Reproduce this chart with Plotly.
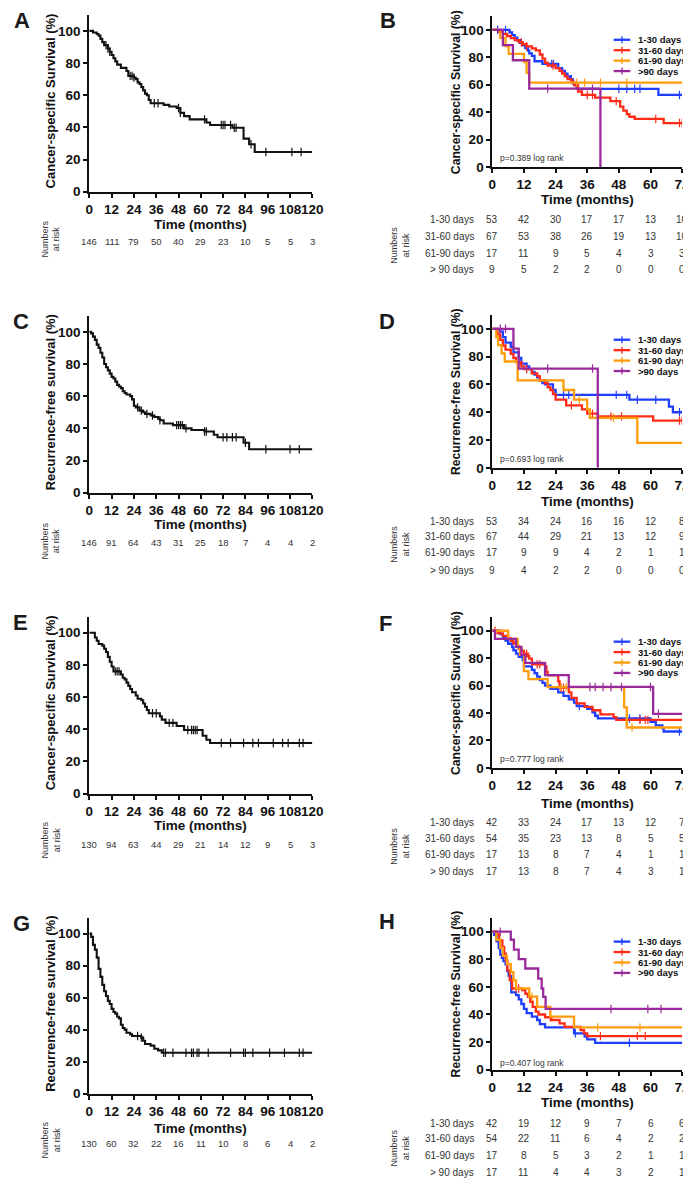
import plotly.graph_objects as go

FIG_W, FIG_H = 691, 1178
FONT = "Arial, Liberation Sans, sans-serif"

BLACK = "#111111"
BLUE = "#1f3fff"
RED = "#ff2b17"
ORANGE = "#ff9c0a"
PURPLE = "#9a2a9c"
GROUP_COLORS = [BLUE, RED, ORANGE, PURPLE]

LEFT_TICKS = [0, 12, 24, 36, 48, 60, 72, 84, 96, 108, 120]
RIGHT_TICKS = [0, 12, 24, 36, 48, 60, 72]
Y_TICKS = [0, 20, 40, 60, 80, 100]

GROUP_ROWS = ["1-30 days", "31-60 days", "61-90 days", "> 90 days"]
LEGEND_NAMES = ["1-30 days", "31-60 days", "61-90 days", ">90 days"]

# ---------------------------------------------------------------- A (CSS, all)
A_T = [2, 4, 5, 6, 7, 8, 10, 11, 12, 13, 14, 15, 17, 20, 21, 24, 25, 26, 27, 28,
       29, 30, 31, 32, 33, 40, 43, 47, 49, 51, 54, 63, 65, 77, 83, 86, 89]
A_S = [99, 98, 97, 95, 93, 91, 89, 87, 85, 83, 81, 79, 77, 75, 72, 71, 70, 68, 67, 65,
       63, 61, 60, 57, 55, 54, 53, 52, 49, 47, 45, 43, 41.5, 39.8, 33, 29.5, 24.7]
A_C = [9, 10, 11, 22, 23, 24, 35, 37, 48, 49, 62, 71, 72, 73, 76, 78, 79, 87, 95, 109, 114]
A_RISK = [146, 111, 79, 50, 40, 29, 23, 10, 5, 5, 3]

# ---------------------------------------------------------------- C (RFS, all)
C_T = [1, 2, 3, 4, 5, 6, 7, 8, 9, 10, 11, 12, 13, 14, 15, 16, 17, 18, 19, 20, 22, 23,
       24, 25, 27, 29, 30, 33, 35, 37, 38, 40, 45, 51, 55, 62, 67, 69, 83, 86]
C_S = [99, 97, 95, 92, 90, 87, 84, 80, 78, 76, 74, 72, 71, 69, 67, 66, 65, 63, 62, 61, 60, 58,
       54, 53, 51, 50, 49, 48, 47, 46, 45, 43, 42, 40, 39, 38, 36, 34.5, 31, 27]
C_C = [26, 28, 31, 34, 38, 47, 48, 49, 50, 52, 62, 63, 72, 74, 77, 79, 84, 95, 108, 113]
C_RISK = [146, 91, 64, 43, 31, 25, 18, 7, 4, 4, 2]

# ---------------------------------------------------------------- E (CSS, cohort 2)
E_T = [3, 4, 5, 7, 8, 9, 10, 11, 12, 13, 17, 18, 19, 20, 21, 22, 23, 25, 26, 28, 29,
       30, 31, 32, 38, 39, 41, 47, 51, 61, 63, 65]
E_S = [97, 95, 93, 92, 90, 88, 85, 82, 79, 76, 74, 72, 71, 69, 67, 65, 63, 61, 59, 58, 56,
       54, 52, 50, 48, 46, 44, 42, 39.5, 36, 33.5, 31.5]
E_C = [14, 15, 16, 34, 36, 43, 45, 53, 55, 56, 57, 58, 71, 76, 83, 88, 91, 99, 104, 107, 113, 115]
E_RISK = [130, 94, 63, 44, 29, 21, 14, 12, 9, 5, 3]

# ---------------------------------------------------------------- G (RFS, cohort 2)
G_T = [1, 2, 3, 4, 5, 6, 7, 8, 9, 10, 11, 12, 13, 14, 15, 16, 17, 18, 19, 20, 22, 23,
       28, 29, 30, 33, 35, 37, 39]
G_S = [98, 93, 90, 85, 78, 73, 68, 64, 61, 58, 56, 53, 51, 50, 48, 47, 43, 41, 40, 38, 37, 36,
       35, 33, 31, 30, 28, 27, 25.5]
G_C = [26, 28, 40, 41, 45, 52, 55, 56, 58, 59, 64, 76, 83, 84, 88, 97, 105, 113, 115]
G_RISK = [130, 60, 32, 22, 16, 11, 10, 8, 6, 4, 2]

# ---------------------------------------------------------------- B (CSS by delay)
B1_T = [6.5, 7.5, 8.5, 9.5, 10.5, 11.5, 12.5, 13.5, 14, 15, 16, 19, 25, 26.5, 27.5, 28.5,
        29.5, 30.5, 32, 63]
B1_S = [98.1, 96.2, 94.3, 92.4, 90.5, 88.6, 86.7, 84.8, 82.9, 81, 77.1, 75.2, 72, 70, 68, 66,
        64, 61, 57, 52.5]
B1_C = [2, 5, 22.5, 23.2, 30, 48, 51, 54, 56, 71]
B2_T = [2.5, 4, 5.5, 7, 8.5, 10, 11.5, 13, 15, 16.5, 18, 19, 20, 21, 24, 25.5, 26.5, 27.5,
        28.5, 30, 31, 32.5, 34, 39, 44.8, 48.5, 49.7, 51, 52, 54, 65]
B2_S = [98.5, 97, 95.5, 94, 92.5, 91, 89.5, 88, 86.5, 85, 82, 79, 76, 74, 72, 70, 68, 66,
        64, 62, 59.5, 55, 52.5, 50.5, 48, 44, 41, 38.5, 36.6, 35, 32]
B2_C = [11, 13, 23, 36, 38, 47, 62, 71, 72]
B3_T = [3, 5, 6.2, 12, 13, 14]
B3_S = [94.1, 88.2, 82.4, 76.5, 68.6, 61.5]
B3_C = [32, 35, 41, 51]
B4_T = [4, 7.8, 14, 41]
B4_S = [88.9, 77.8, 57.1, 0]
B4_C = [21, 38]
B_RISK = [[53, 42, 30, 17, 17, 13, 10],
          [67, 53, 38, 26, 19, 13, 10],
          [17, 11, 9, 5, 4, 3, 3],
          [9, 5, 2, 2, 0, 0, 0]]

# ---------------------------------------------------------------- D (RFS by delay)
D1_T = [3, 4, 5, 7, 8, 10, 11, 13, 14, 15, 16, 17, 18, 19, 20, 23, 24, 52, 67, 68.5]
D1_S = [98, 94, 90, 87, 83, 79, 75, 73, 71, 69, 67, 65, 63, 61, 60, 56, 52.5, 49, 44, 40]
D1_C = [21, 27, 29, 47, 51, 55, 62, 71]
D2_T = [2, 3, 4, 5, 7, 8, 9, 11, 12, 15, 17, 18, 20, 21, 22, 23, 24, 28, 34, 36, 40, 61]
D2_S = [96, 92, 88, 85, 82, 79, 76, 73, 71, 68, 66, 63, 61, 58, 56, 53, 49, 45, 42, 39, 37, 34]
D2_C = [13, 30, 38, 45, 49, 71, 72]
D3_T = [1.5, 2.2, 3.5, 4.7, 9.6, 27, 31, 36, 37, 55]
D3_S = [94.1, 88.2, 82.4, 76.5, 62.9, 56, 49, 42, 36, 18]
D3_C = [33, 46]
D4_T = [8, 10, 40]
D4_S = [85.7, 71.4, 0]
D4_C = [3, 5, 21, 38]
D_RISK = [[53, 34, 24, 16, 16, 12, 8],
          [67, 44, 29, 21, 13, 12, 9],
          [17, 9, 9, 4, 2, 1, 1],
          [9, 4, 2, 2, 0, 0, 0]]

# ---------------------------------------------------------------- F (CSS by delay, cohort 2)
F1_T = [3, 4, 5, 6, 7.5, 8, 9, 10, 11.5, 12, 15, 16, 17, 18, 19, 20, 22, 25, 27, 29, 31,
        32, 36, 38, 39, 40, 60, 62, 64.5, 65]
F1_S = [97.6, 95.2, 92.9, 90.5, 88.1, 85.7, 83.3, 81, 78.6, 74, 71.5, 69, 66.5, 64, 62, 60,
        57.6, 55, 52.5, 50, 47.5, 45, 43, 40.5, 38, 36, 33.5, 31, 29, 26.5]
F1_C = [33, 52, 56, 71]
F2_T = [2, 4, 6, 7, 8, 9, 10, 11, 12, 13.5, 14, 15, 20, 20.5, 21, 25, 25.5, 29, 30, 32,
        35, 38, 41, 46, 47]
F2_S = [98.1, 96.3, 94.4, 92.6, 90.7, 88.9, 87, 85.2, 83.3, 81.5, 79.6, 75.5, 74, 70, 67.5,
        63, 58.5, 55, 51, 47, 44.5, 42, 39, 37, 35]
F2_C = [1, 12, 13, 17, 18, 26, 27, 56, 58, 59]
F3_T = [6, 9.6, 10.5, 12, 13.7, 21, 50, 51]
F3_S = [94.1, 88.2, 82.4, 70.6, 64.7, 58.8, 44.1, 29.4]
F3_C = [26, 28, 53]
F4_T = [1, 9, 11, 12.5, 20, 29, 61]
F4_S = [94.1, 88.2, 82.4, 76.5, 67.6, 59, 39.4]
F4_C = [37, 39, 42, 45, 49, 60, 63]
F_RISK = [[42, 33, 24, 17, 13, 12, 7],
          [54, 35, 23, 13, 8, 5, 5],
          [17, 13, 8, 7, 4, 1, 1],
          [17, 13, 8, 7, 4, 3, 1]]

# ---------------------------------------------------------------- H (RFS by delay, cohort 2)
H1_T = [0.7, 1.6, 2.4, 3, 3.6, 4.2, 5, 5.6, 6.2, 7.2, 9, 10, 11, 12, 13, 15, 17, 18, 20,
        31, 35, 36, 39]
H1_S = [97.6, 92.9, 88.1, 83.3, 81, 78.6, 76.2, 71.4, 68, 56, 54, 51, 47.6, 44, 41, 38.5,
        36, 33, 30.6, 26.3, 24, 22, 19.5]
H1_C = [31.5, 52]
H2_T = [1.6, 2.6, 3.8, 4.5, 5.1, 5.7, 6.6, 7.5, 11.3, 12.5, 13.5, 14.4, 15.3, 16.5, 17.5,
        20, 22.4, 25.5, 27.4, 33.5, 34.8, 36]
H2_S = [98, 93.7, 89, 84, 79, 72, 64.8, 58.8, 57.6, 55, 52.8, 49.2, 45.5, 42, 40, 38, 36,
        33.5, 31, 28.7, 26.3, 24.3]
H2_C = [9, 10, 22, 41, 55, 58]
H3_T = [1.5, 3, 4, 5.5, 7, 8, 9, 14, 17, 22, 31]
H3_S = [94.1, 88.2, 82.4, 76.5, 70.6, 64.7, 58.8, 52.9, 45.5, 38.5, 30.6]
H3_C = [15, 40, 56]
H4_T = [7, 8.2, 10, 12.5, 17.4, 18.7, 19.3, 20.2]
H4_S = [94.1, 87, 80, 73.3, 66, 58.8, 52.8, 44]
H4_C = [3, 45, 59, 64]
H_RISK = [[42, 19, 12, 9, 7, 6, 6],
          [54, 22, 11, 6, 4, 2, 2],
          [17, 8, 5, 3, 2, 1, 1],
          [17, 11, 4, 4, 3, 2, 1]]

P_VALUES = {"B": "p=0.389 log rank", "D": "p=0.693 log rank",
            "F": "p=0.777 log rank", "H": "p=0.407 log rank"}

Y_TITLES = {"A": "Cancer-specific Survival (%)", "B": "Cancer-specific Survival (%)",
            "C": "Recurrence-free survival (%)", "D": "Recurrence-free Survival (%)",
            "E": "Cancer-specific Survival (%)", "F": "Cancer-specific Survival (%)",
            "G": "Recurrence-free survival (%)", "H": "Recurrence-free Survival (%)"}

# ------------------------------------------------------------------ #
# Layout geometry in page pixels (x0, x1, y_top, y_bottom of plot box)
# ------------------------------------------------------------------ #
GEOM = {
    "A": (79, 307, 6.8, 185), "B": (491, 685, 8.2, 160),
    "C": (79, 307, 309.8, 488), "D": (491, 685, 309, 463),
    "E": (79, 307, 612.8, 791), "F": (491, 685, 613.2, 765),
    "G": (79, 307, 915.9, 1093), "H": (491, 685, 916, 1069),
}
TIME_Y = {"A": 218, "B": 193, "C": 520, "D": 497, "E": 823, "F": 801, "G": 1128, "H": 1102}
RISK_Y = {"A": [235], "C": [538], "E": [842], "G": [1143],
          "B": [213, 230, 247, 263], "D": [517, 532, 548, 566],
          "F": [820, 836, 852, 869], "H": [1123, 1138, 1155, 1172]}
NAR_POS = {"A": (40, 233), "B": (397, 239), "C": (40, 537), "D": (397, 540),
           "E": (40, 838), "F": (397, 844), "G": (40, 1140), "H": (397, 1148)}
LETTER_POS = {"A": (10, 13), "B": (384, 13), "C": (9, 316), "D": (383, 316),
              "E": (8.5, 619), "F": (381.5, 620), "G": (9.5, 922), "H": (383.5, 920)}
LEGEND_Y = {"B": 32, "D": 334, "F": 638, "H": 940}
P_Y = {"B": 150.7, "D": 454, "F": 756, "H": 1062}


def px_x(p):
    return p / FIG_W


def px_y(p):
    return 1 - p / FIG_H


def note(text, x, y, size, xref="paper", xanchor="center", weight="normal",
         color="#333333", angle=0):
    # explicit anchors: "auto" would shift paper-anchored text near the edges
    return dict(text=text, x=x, y=y, xref=xref, yref="paper", xanchor=xanchor,
                yanchor="middle", textangle=angle, showarrow=False,
                font=dict(family=FONT, size=size, color=color, weight=weight))


def surv_at(times, surv, t):
    s = 100
    for ti, si in zip(times, surv):
        if ti <= t:
            s = si
    return s


def add_curve(fig, n, times, surv, censor, end, color, width):
    sfx = "" if n == 1 else str(n)
    xs = [0] + list(times) + [end]
    ys = [100] + list(surv) + [surv[-1]]
    fig.add_trace(go.Scatter(
        x=xs, y=ys, mode="lines", xaxis="x" + sfx, yaxis="y" + sfx,
        line=dict(color=color, width=width, shape="hv"), hoverinfo="skip",
    ))
    fig.add_trace(go.Scatter(
        x=censor, y=[surv_at(times, surv, t) for t in censor], mode="markers",
        xaxis="x" + sfx, yaxis="y" + sfx, hoverinfo="skip",
        marker=dict(symbol="line-ns", size=6, line=dict(color=color, width=1.2)),
    ))


fig = go.Figure()

SINGLE = {"A": (A_T, A_S, A_C, A_RISK), "C": (C_T, C_S, C_C, C_RISK),
          "E": (E_T, E_S, E_C, E_RISK), "G": (G_T, G_S, G_C, G_RISK)}
GROUPED = {
    "B": ([(B1_T, B1_S, B1_C), (B2_T, B2_S, B2_C), (B3_T, B3_S, B3_C), (B4_T, B4_S, B4_C)], B_RISK),
    "D": ([(D1_T, D1_S, D1_C), (D2_T, D2_S, D2_C), (D3_T, D3_S, D3_C), (D4_T, D4_S, D4_C)], D_RISK),
    "F": ([(F1_T, F1_S, F1_C), (F2_T, F2_S, F2_C), (F3_T, F3_S, F3_C), (F4_T, F4_S, F4_C)], F_RISK),
    "H": ([(H1_T, H1_S, H1_C), (H2_T, H2_S, H2_C), (H3_T, H3_S, H3_C), (H4_T, H4_S, H4_C)], H_RISK),
}

ORDER = ["A", "B", "C", "D", "E", "F", "G", "H"]
annotations = []
shapes = []
layout_axes = {}

tick_font = dict(family=FONT, size=13.5, color=BLACK, weight="bold")

for n, key in enumerate(ORDER, start=1):
    sfx = "" if n == 1 else str(n)
    x0, x1, yt, yb = GEOM[key]
    left = key in SINGLE
    ticks = LEFT_TICKS if left else RIGHT_TICKS

    layout_axes["xaxis" + sfx] = dict(
        domain=[px_x(x0), px_x(x1)], range=[0, ticks[-1]], anchor="y" + sfx,
        tickvals=ticks, tickangle=0, showline=True, linewidth=2, linecolor=BLACK,
        ticks="outside", ticklen=4, tickwidth=2, tickcolor=BLACK,
        showgrid=False, zeroline=False, tickfont=tick_font,
    )
    layout_axes["yaxis" + sfx] = dict(
        domain=[px_y(yb), px_y(yt)], range=[0, 110], anchor="x" + sfx,
        tickvals=Y_TICKS, tickangle=0, showline=True, linewidth=2, linecolor=BLACK,
        ticks="outside", ticklen=4, tickwidth=2, tickcolor=BLACK,
        showgrid=False, zeroline=False, tickfont=tick_font,
    )

    # curves
    if left:
        t, s, c, risk = SINGLE[key]
        add_curve(fig, n, t, s, c, 120, BLACK, 2.1)
    else:
        curves, risk_rows = GROUPED[key]
        for (t, s, c), col in zip(curves, GROUP_COLORS):
            end = t[-1] if s[-1] == 0 else 72
            add_curve(fig, n, t, s, c, end, col, 2.3)

    # panel letter, axis titles, side label
    lx, ly = LETTER_POS[key]
    annotations.append(note(key, px_x(lx), px_y(ly), 22, weight="bold", color="#1a1a1a"))
    if left:
        annotations.append(note(Y_TITLES[key], px_x(39), px_y((yt + yb) / 2 - 2), 13,
                                weight="bold", color=BLACK, angle=-90))
    else:
        annotations.append(note(Y_TITLES[key], px_x(454), px_y((yt + yb) / 2 + 0.5), 12.2,
                                weight="bold", color=BLACK, angle=-90))
    annotations.append(note("Time (months)", px_x((x0 + x1) / 2), px_y(TIME_Y[key]), 13.5,
                            weight="bold", color=BLACK))
    nx, ny = NAR_POS[key]
    annotations.append(note("Numbers<br>at risk", px_x(nx), px_y(ny), 9, angle=-90))

    # numbers-at-risk table
    if left:
        for tv, val in zip(ticks, risk):
            annotations.append(note(str(val), tv, px_y(RISK_Y[key][0]), 9.5, xref="x" + sfx))
    else:
        for row_y, row_name, row_vals in zip(RISK_Y[key], GROUP_ROWS, risk_rows):
            annotations.append(note(row_name, px_x(474), px_y(row_y), 10, xanchor="right"))
            for tv, val in zip(ticks, row_vals):
                annotations.append(note(str(val), tv, px_y(row_y), 10, xref="x" + sfx))

        # p-value
        annotations.append(note(P_VALUES[key], px_x(497), px_y(P_Y[key]), 8.5, xanchor="left"))

        # hand-built legend (compact row spacing)
        for i, (name, col) in enumerate(zip(LEGEND_NAMES, GROUP_COLORS)):
            ry = LEGEND_Y[key] + i * 10.5
            shapes.append(dict(type="line", xref="paper", yref="paper",
                               x0=px_x(615), x1=px_x(632), y0=px_y(ry), y1=px_y(ry),
                               line=dict(color=col, width=2.3)))
            shapes.append(dict(type="line", xref="paper", yref="paper",
                               x0=px_x(623.5), x1=px_x(623.5), y0=px_y(ry - 3.5), y1=px_y(ry + 3.5),
                               line=dict(color=col, width=1.3)))
            annotations.append(note(name, px_x(638), px_y(ry), 9.5, xanchor="left",
                                    weight="bold", color=BLACK))

fig.update_layout(
    width=FIG_W, height=FIG_H,
    margin=dict(l=0, r=0, t=0, b=0),
    paper_bgcolor="white", plot_bgcolor="white",
    showlegend=False,
    annotations=annotations,
    shapes=shapes,
    font=dict(family=FONT),
    **layout_axes,
)

fig.write_html("out.html")
